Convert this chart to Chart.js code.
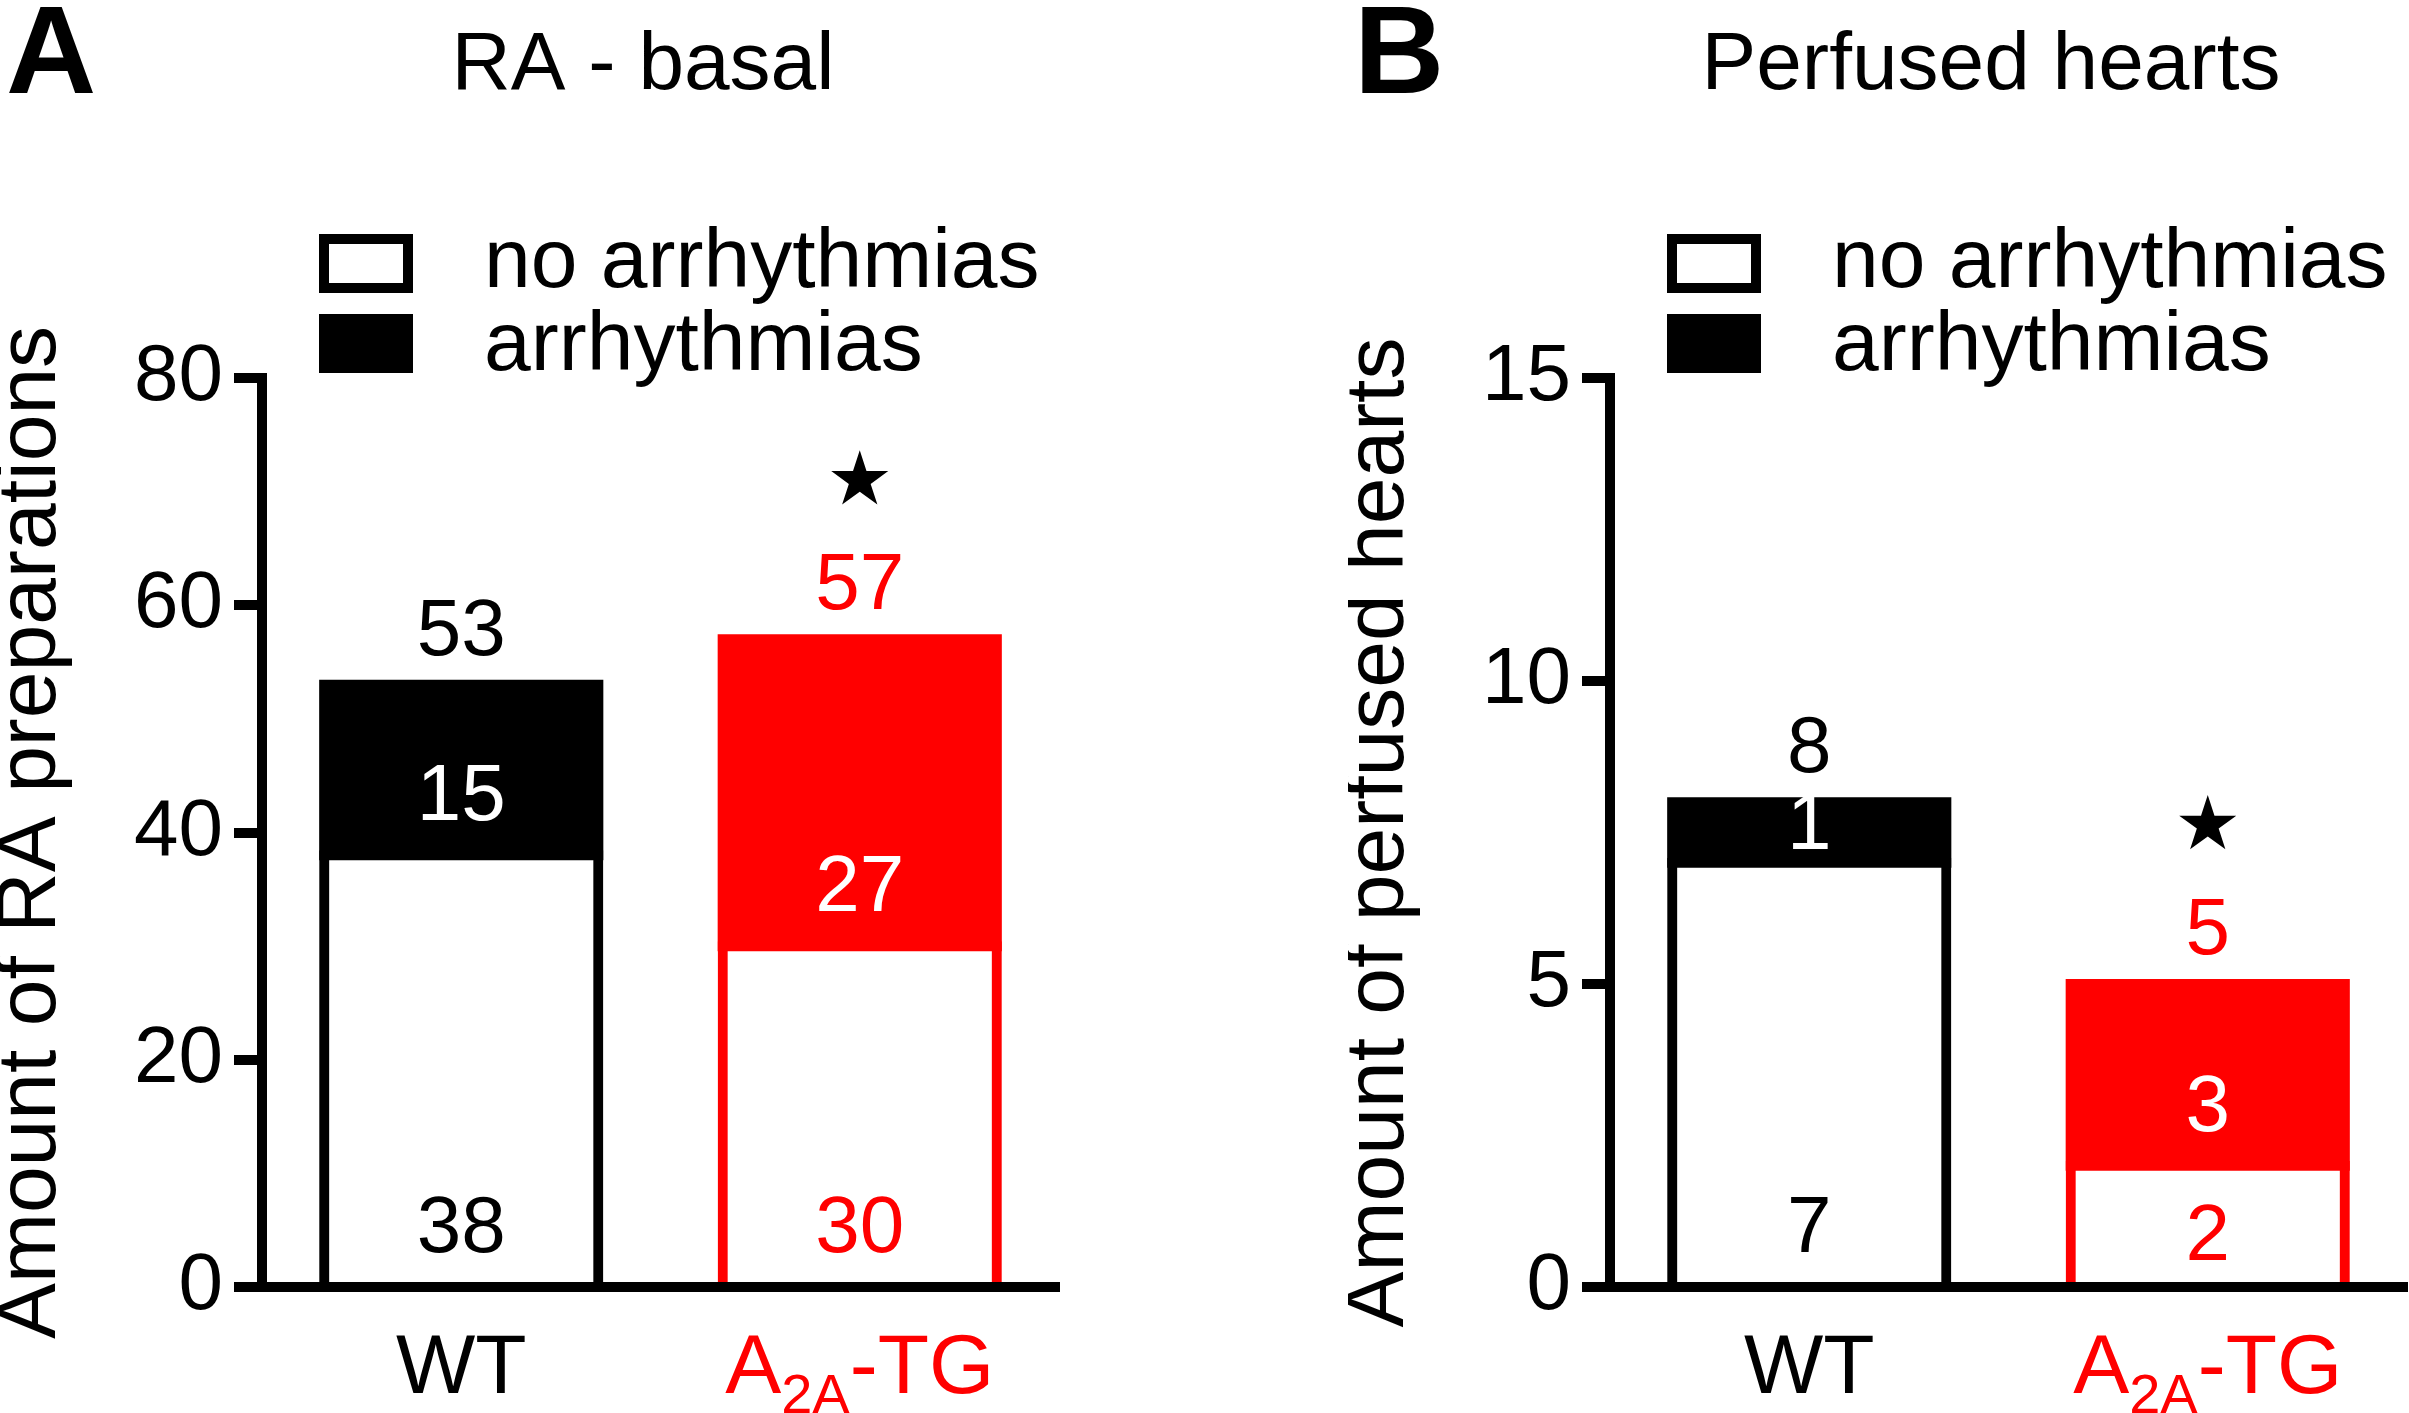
<!DOCTYPE html>
<html>
<head>
<meta charset="utf-8">
<script src="https://cdn.jsdelivr.net/npm/chart.js@4.4.1/dist/chart.umd.min.js"></script>
<style>
  html, body { margin: 0; padding: 0; background: #fff; overflow: hidden; }
  #wrap { position: relative; width: 2409px; height: 1413px; }
  canvas { position: absolute; top: 0; }
</style>
</head>
<body>
<div id="wrap">
  <canvas id="panelA" width="1300" height="1413" style="left:0px;width:1300px;height:1413px"></canvas>
  <canvas id="panelB" width="1061" height="1413" style="left:1348px;width:1061px;height:1413px"></canvas>
</div>
<script>
// categories and groups
const categories = ['WT', 'A_{2A}-TG'];
const groupColors = ['#000000', '#ff0000'];
const seriesNames = ['no arrhythmias', 'arrhythmias'];

// panel A - right atrial preparations
const raNoArrhythmias = [38, 30];
const raArrhythmias = [15, 27];
const raSignificant = [false, true];
const raTicks = [0, 20, 40, 60, 80];

// panel B - perfused hearts
const heartsNoArrhythmias = [7, 2];
const heartsArrhythmias = [1, 3];
const heartsSignificant = [false, true];
const heartsTicks = [0, 5, 10, 15];

const FONT = '"Liberation Sans", Arial, Helvetica, sans-serif';
const PLOT_RIGHT = 1059;
const PLOT_BOTTOM = 1287;

function drawStar(ctx, cx, cy, r) {
  ctx.beginPath();
  for (let k = 0; k < 10; k++) {
    const rad = k % 2 ? r * 0.382 : r;
    const a = -Math.PI / 2 + k * Math.PI / 5;
    const px = cx + rad * Math.cos(a), py = cy + rad * Math.sin(a);
    if (k === 0) ctx.moveTo(px, py); else ctx.lineTo(px, py);
  }
  ctx.closePath();
  ctx.fillStyle = '#000';
  ctx.fill();
}

// label text with _{...} subscripts, centered at cx
function drawRich(ctx, text, cx, baseline, color) {
  const parts = [];
  const re = /_\{([^}]*)\}/g;
  let last = 0, m;
  while ((m = re.exec(text)) !== null) {
    if (m.index > last) parts.push({ t: text.slice(last, m.index), sub: false });
    parts.push({ t: m[1], sub: true });
    last = re.lastIndex;
  }
  if (last < text.length) parts.push({ t: text.slice(last), sub: false });
  const mainFont = `84px ${FONT}`, subFont = `56px ${FONT}`;
  let total = 0;
  parts.forEach(p => { ctx.font = p.sub ? subFont : mainFont; p.w = ctx.measureText(p.t).width; total += p.w; });
  let x = cx - total / 2;
  ctx.fillStyle = color;
  ctx.textAlign = 'left';
  parts.forEach(p => {
    ctx.font = p.sub ? subFont : mainFont;
    ctx.fillText(p.t, x, baseline + (p.sub ? 20 : 0));
    x += p.w;
  });
}

function makePanel(canvasId, letter, title, yTitle, noArr, arr, sig, ticks) {
  const canvas = document.getElementById(canvasId);

  const decor = {
    id: 'decor',
    afterDatasetsDraw(chart) {
      const ctx = chart.ctx;
      const xs = chart.scales.x, ys = chart.scales.y;
      ctx.save();
      ctx.textBaseline = 'alphabetic';
      categories.forEach((cat, i) => {
        const cx = xs.getPixelForValue(i);
        const y0 = ys.getPixelForValue(0);
        const y1 = ys.getPixelForValue(noArr[i]);
        const total = noArr[i] + arr[i];
        const y2 = ys.getPixelForValue(total);
        ctx.textAlign = 'center';
        ctx.font = `80px ${FONT}`;
        ctx.fillStyle = groupColors[i];
        ctx.fillText(String(noArr[i]), cx, y0 - Math.min(35, (y0 - y1) * 0.22));
        ctx.fillStyle = '#ffffff';
        ctx.fillText(String(arr[i]), cx, y1 - Math.min(35, (y1 - y2) * 0.22));
        ctx.fillStyle = groupColors[i];
        const tb = y2 - 30;
        ctx.fillText(String(total), cx, tb);
        if (sig[i]) drawStar(ctx, cx, tb - 129, 30);
        drawRich(ctx, cat, cx, 1393, groupColors[i]);
      });
      ctx.restore();
    },
    afterDraw(chart) {
      const ctx = chart.ctx;
      ctx.save();
      ctx.textBaseline = 'alphabetic';
      // panel letter
      ctx.fillStyle = '#000';
      ctx.textAlign = 'left';
      ctx.font = `bold 125px ${FONT}`;
      ctx.fillText(letter, 6, 93);
      // panel title
      ctx.textAlign = 'center';
      ctx.font = `82px ${FONT}`;
      ctx.fillText(title, 643, 89);
      // legend
      ctx.fillStyle = '#fff';
      ctx.fillRect(319, 234, 94, 59);
      ctx.lineWidth = 10;
      ctx.strokeStyle = '#000';
      ctx.strokeRect(324, 239, 84, 49);
      ctx.fillStyle = '#000';
      ctx.fillRect(319, 314, 94, 59);
      ctx.textAlign = 'left';
      ctx.font = `84px ${FONT}`;
      ctx.fillText(chart.data.datasets[0].label, 484, 287);
      ctx.fillText(chart.data.datasets[1].label, 484, 370);
      ctx.restore();
    }
  };

  return new Chart(canvas.getContext('2d'), {
    type: 'bar',
    data: {
      labels: categories,
      datasets: [{
        label: seriesNames[0],
        data: noArr,
        backgroundColor: '#ffffff',
        borderColor: groupColors,
        borderWidth: 10,
        inflateAmount: 5
      }, {
        label: seriesNames[1],
        data: arr,
        backgroundColor: groupColors,
        borderWidth: 0,
        inflateAmount: 5
      }]
    },
    options: {
      responsive: false,
      animation: false,
      devicePixelRatio: 1,
      events: [],
      datasets: { bar: { barPercentage: 0.688, categoryPercentage: 1.0 } },
      layout: { padding: { top: 378, right: canvas.width - PLOT_RIGHT, bottom: 0, left: 0 } },
      plugins: { legend: { display: false }, tooltip: { enabled: false }, title: { display: false } },
      scales: {
        x: {
          stacked: true,
          afterFit: s => { s.height = canvas.height - PLOT_BOTTOM; },
          grid: { display: false },
          border: { display: true, width: 10, color: '#000' },
          ticks: { display: false }
        },
        y: {
          stacked: true,
          min: ticks[0],
          max: ticks[ticks.length - 1],
          afterBuildTicks: s => { s.ticks = ticks.map(v => ({ value: v })); },
          afterFit: s => { s.width = 262; },
          grid: { drawOnChartArea: false, drawTicks: true, tickLength: 28, lineWidth: 10, color: '#000' },
          border: { display: true, width: 10, color: '#000' },
          ticks: { color: '#000', padding: 11, font: { family: FONT, size: 80 } },
          title: {
            display: true,
            text: yTitle,
            color: '#000',
            padding: 0,
            font: { family: FONT, size: 84, lineHeight: 0.76 }
          }
        }
      }
    },
    plugins: [decor]
  });
}

makePanel('panelA', 'A', 'RA - basal', 'Amount of RA preparations',
  raNoArrhythmias, raArrhythmias, raSignificant, raTicks);
makePanel('panelB', 'B', 'Perfused hearts', 'Amount of perfused hearts',
  heartsNoArrhythmias, heartsArrhythmias, heartsSignificant, heartsTicks);
</script>
</body>
</html>
